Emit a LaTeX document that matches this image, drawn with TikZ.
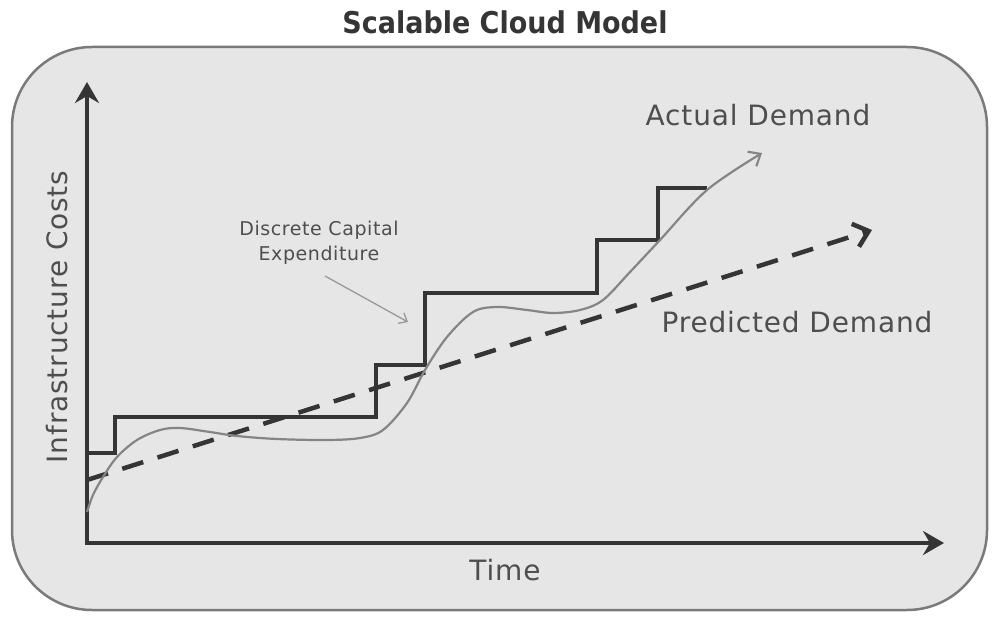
\documentclass[tikz,border=0pt]{standalone}
\usepackage{fontspec}
\setmainfont[LetterSpace=3]{DejaVu Sans}
\newfontfamily\titlefont{DejaVu Sans Condensed}
\usetikzlibrary{arrows.meta}
\definecolor{boxfill}{HTML}{E6E6E6}
\definecolor{boxline}{HTML}{7A7A7A}
\definecolor{ink}{HTML}{353535}
\definecolor{curvegray}{HTML}{858585}
\definecolor{textgray}{HTML}{4E4E4E}
\definecolor{notegray}{HTML}{999999}
\tikzset{
  axisline/.style={ink, line width=4.5pt, line join=miter},
  stepline/.style={ink, line width=4pt, line join=miter},
  demandline/.style={curvegray, line width=2.2pt},
  predline/.style={ink, line width=4.5pt, dash pattern=on 22pt off 15pt},
  label/.style={text=textgray, inner sep=0pt},
  bigtext/.style={label, font=\fontsize{28}{32}\selectfont},
}
\begin{document}
\begin{tikzpicture}[x=1pt,y=-1pt]
\useasboundingbox (0,0) rectangle (992,617);
\draw[boxline, fill=boxfill, line width=2.5pt, rounded corners=80pt] (12,47) rectangle (987,610);

\node[text=ink, inner sep=0pt, font=\titlefont\bfseries\fontsize{30}{34}\selectfont] (title) at (505,22) {Scalable Cloud Model};

\coordinate (ytip) at (87,82);
\coordinate (O) at (87,543);
\coordinate (xtip) at (944,543);
\draw[axisline, {Stealth[length=21pt,width=24pt,inset=7pt]}-{Stealth[length=21pt,width=24pt,inset=7pt]}] (ytip) -- (O) -- (xtip);

\node[bigtext, rotate=90] (ylabel) at (57,317) {Infrastructure Costs};
\node[bigtext] (xlabel) at (505,570) {Time};

\draw[stepline] (87,453) -- (115,453) -- (115,417) -- (376,417) -- (376,365) -- (425,365) -- (425,293) -- (597,293) -- (597,240) -- (658,240) -- (658,188) -- (707,188);

\coordinate (pstart) at (87,480);
\coordinate (ptip) at (872,230);
\draw[predline, -{Straight Barb[length=14pt,width=24pt,line width=4.5pt]}] (pstart) -- (ptip);

\draw[demandline, -{Straight Barb[length=10pt,width=17pt]}] plot[smooth, tension=0.55] coordinates {
 (87,512) (93,495) (103,477) (117,457) (137,440) (160,430) (180,428) (210,432) (237,436) (277,439) (327,440)
 (360,438) (383,430) (407,403) (425,370) (447,337) (473,312) (497,307) (527,310) (553,313) (580,310) (603,300)
 (630,272) (660,240) (707,190) (762,153)};

\node[bigtext] (actual) at (758,115) {Actual Demand};
\node[bigtext] (pred) at (797,322) {Predicted Demand};

\node[label, align=center, font=\fontsize{19}{25}\selectfont] (note) at (319,243) {Discrete Capital\\Expenditure};
\coordinate (notetip) at (408,322);
\draw[notegray, line width=1.3pt, -{Straight Barb[length=7pt,width=12pt]}] (325,276) -- (notetip);
\end{tikzpicture}
\end{document}
